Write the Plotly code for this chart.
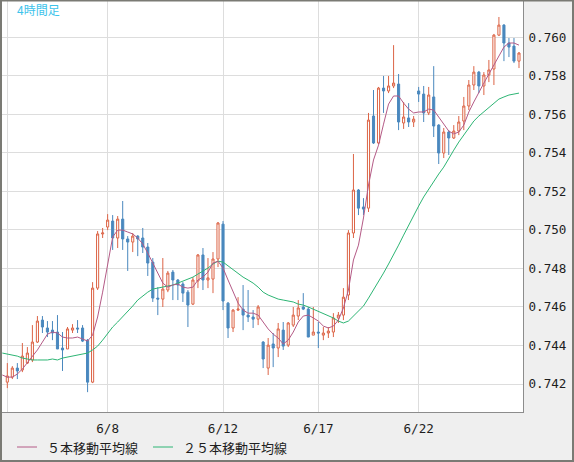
import plotly.graph_objects as go

# ---------------- data ----------------
bars = list(range(103))

opens = [0.74210, 0.74236, 0.74283, 0.74273, 0.74309, 0.74325, 0.74418, 0.74532, 0.74491, 0.74480,
         0.74470, 0.74387, 0.74382, 0.74480, 0.74491, 0.74491, 0.74428, 0.74210, 0.74698, 0.74979,
         0.75015, 0.75046, 0.74958, 0.75056, 0.74953, 0.74937, 0.74968, 0.74958, 0.74911, 0.74833,
         0.74646, 0.74641, 0.74688, 0.74781, 0.74740, 0.74719, 0.74677, 0.74615, 0.74735, 0.74870,
         0.74740, 0.74745, 0.74849, 0.75030, 0.74620, 0.74491, 0.74584, 0.74589, 0.74558, 0.74548,
         0.74537, 0.74418, 0.74283, 0.74408, 0.74387, 0.74480, 0.74402, 0.74506, 0.74553, 0.74600,
         0.74589, 0.74454, 0.74470, 0.74454, 0.74465, 0.74470, 0.74543, 0.74558, 0.74662, 0.74984,
         0.75207, 0.75119, 0.75113, 0.75591, 0.75451, 0.75736, 0.75721, 0.75747, 0.75757, 0.75555,
         0.75581, 0.75560, 0.75721, 0.75705, 0.75607, 0.75690, 0.75544, 0.75399, 0.75508, 0.75477,
         0.75513, 0.75565, 0.75643, 0.75752, 0.75819, 0.75747, 0.75804, 0.75835, 0.76011, 0.76063,
         0.75970, 0.75954, 0.75876]

highs = [0.74309, 0.74293, 0.74309, 0.74413, 0.74392, 0.74506, 0.74553, 0.74553, 0.74527, 0.74527,
         0.74558, 0.74470, 0.74496, 0.74511, 0.74532, 0.74506, 0.74434, 0.74729, 0.74994, 0.75010,
         0.75082, 0.75077, 0.75072, 0.75150, 0.74968, 0.74984, 0.74973, 0.75010, 0.74932, 0.74854,
         0.74703, 0.74854, 0.74787, 0.74792, 0.74745, 0.74729, 0.74688, 0.74755, 0.74875, 0.74906,
         0.74854, 0.74885, 0.75041, 0.75046, 0.74626, 0.74589, 0.74651, 0.74714, 0.74688, 0.74584,
         0.74610, 0.74423, 0.74439, 0.74465, 0.74517, 0.74522, 0.74522, 0.74600, 0.74636, 0.74672,
         0.74600, 0.74600, 0.74522, 0.74496, 0.74496, 0.74568, 0.74574, 0.74698, 0.74999, 0.75394,
         0.75212, 0.75165, 0.75607, 0.75726, 0.75742, 0.75799, 0.75799, 0.75959, 0.75809, 0.75664,
         0.75658, 0.75591, 0.75742, 0.75747, 0.75742, 0.75850, 0.75549, 0.75529, 0.75518, 0.75544,
         0.75591, 0.75690, 0.75778, 0.75850, 0.75825, 0.75819, 0.75882, 0.76017, 0.76105, 0.76068,
         0.75996, 0.75996, 0.75923]

lows = [0.74179, 0.74226, 0.74226, 0.74262, 0.74304, 0.74314, 0.74413, 0.74465, 0.74444, 0.74428,
        0.74382, 0.74268, 0.74382, 0.74465, 0.74465, 0.74418, 0.74158, 0.74205, 0.74688, 0.74958,
        0.74999, 0.74896, 0.74906, 0.74896, 0.74787, 0.74885, 0.74864, 0.74880, 0.74761, 0.74626,
        0.74558, 0.74600, 0.74677, 0.74636, 0.74636, 0.74626, 0.74496, 0.74610, 0.74698, 0.74688,
        0.74698, 0.74672, 0.74807, 0.74584, 0.74439, 0.74470, 0.74579, 0.74480, 0.74522, 0.74491,
        0.74506, 0.74283, 0.74247, 0.74288, 0.74340, 0.74377, 0.74392, 0.74496, 0.74532, 0.74584,
        0.74444, 0.74454, 0.74387, 0.74428, 0.74439, 0.74444, 0.74517, 0.74532, 0.74636, 0.74958,
        0.75077, 0.75077, 0.75093, 0.75446, 0.75446, 0.75607, 0.75710, 0.75736, 0.75518, 0.75524,
        0.75534, 0.75534, 0.75664, 0.75560, 0.75596, 0.75482, 0.75342, 0.75373, 0.75389, 0.75472,
        0.75492, 0.75518, 0.75622, 0.75726, 0.75710, 0.75700, 0.75767, 0.75752, 0.76006, 0.75876,
        0.75897, 0.75866, 0.75840]

closes = [0.74242, 0.74283, 0.74268, 0.74345, 0.74361, 0.74418, 0.74527, 0.74496, 0.74470, 0.74465,
          0.74382, 0.74377, 0.74486, 0.74491, 0.74486, 0.74423, 0.74210, 0.74698, 0.74979, 0.74984,
          0.75051, 0.74958, 0.75056, 0.74953, 0.74937, 0.74968, 0.74953, 0.74911, 0.74828, 0.74646,
          0.74641, 0.74693, 0.74776, 0.74740, 0.74714, 0.74672, 0.74610, 0.74740, 0.74870, 0.74740,
          0.74751, 0.74849, 0.75036, 0.74631, 0.74491, 0.74584, 0.74589, 0.74558, 0.74548, 0.74537,
          0.74600, 0.74330, 0.74402, 0.74387, 0.74486, 0.74397, 0.74517, 0.74558, 0.74595, 0.74589,
          0.74444, 0.74470, 0.74465, 0.74465, 0.74475, 0.74543, 0.74558, 0.74651, 0.74984, 0.75207,
          0.75113, 0.75108, 0.75570, 0.75451, 0.75736, 0.75721, 0.75747, 0.75762, 0.75560, 0.75586,
          0.75560, 0.75575, 0.75705, 0.75607, 0.75700, 0.75539, 0.75399, 0.75508, 0.75477, 0.75513,
          0.75560, 0.75643, 0.75752, 0.75819, 0.75747, 0.75804, 0.75830, 0.76011, 0.76063, 0.75970,
          0.75949, 0.75876, 0.75918]

# moving averages as drawn (first point is the bar just left of the visible window)
ma_bars = list(range(-1, 103))

ma5 = [0.74247,
       0.74236, 0.74236, 0.74252, 0.74278, 0.74309, 0.74340, 0.74377, 0.74418, 0.74459, 0.74470,
       0.74465, 0.74444, 0.74439, 0.74439, 0.74444, 0.74434, 0.74423, 0.74454, 0.74548, 0.74677,
       0.74813, 0.74963, 0.74999, 0.74999, 0.74989, 0.74979, 0.74958, 0.74927, 0.74880, 0.74828,
       0.74771, 0.74724, 0.74703, 0.74714, 0.74719, 0.74703, 0.74698, 0.74703, 0.74740, 0.74755,
       0.74781, 0.74828, 0.74838, 0.74802, 0.74740, 0.74677, 0.74620, 0.74584, 0.74568, 0.74568,
       0.74558, 0.74522, 0.74486, 0.74459, 0.74439, 0.74408, 0.74428, 0.74470, 0.74522, 0.74553,
       0.74558, 0.74543, 0.74527, 0.74501, 0.74491, 0.74501, 0.74532, 0.74595, 0.74688, 0.74844,
       0.74921, 0.75062, 0.75233, 0.75363, 0.75440, 0.75549, 0.75653, 0.75695, 0.75695, 0.75658,
       0.75627, 0.75607, 0.75612, 0.75612, 0.75627, 0.75622, 0.75586, 0.75544, 0.75513, 0.75498,
       0.75508, 0.75544, 0.75612, 0.75664, 0.75716, 0.75762, 0.75809, 0.75856, 0.75902, 0.75949,
       0.75970, 0.75970, 0.75959]

ma25 = [0.74361,
        0.74356, 0.74350, 0.74345, 0.74335, 0.74330, 0.74325, 0.74325, 0.74325, 0.74325, 0.74330,
        0.74325, 0.74335, 0.74340, 0.74345, 0.74350, 0.74356, 0.74361, 0.74377, 0.74397, 0.74428,
        0.74465, 0.74496, 0.74522, 0.74548, 0.74574, 0.74605, 0.74636, 0.74657, 0.74677, 0.74693,
        0.74698, 0.74703, 0.74709, 0.74714, 0.74724, 0.74735, 0.74745, 0.74755, 0.74771, 0.74787,
        0.74802, 0.74823, 0.74838, 0.74833, 0.74813, 0.74792, 0.74771, 0.74755, 0.74740, 0.74724,
        0.74703, 0.74677, 0.74662, 0.74651, 0.74641, 0.74636, 0.74631, 0.74626, 0.74615, 0.74610,
        0.74600, 0.74589, 0.74579, 0.74568, 0.74553, 0.74543, 0.74527, 0.74517, 0.74527, 0.74553,
        0.74579, 0.74605, 0.74646, 0.74688, 0.74729, 0.74776, 0.74823, 0.74870, 0.74921, 0.74973,
        0.75025, 0.75077, 0.75124, 0.75171, 0.75212, 0.75254, 0.75290, 0.75326, 0.75373, 0.75414,
        0.75456, 0.75492, 0.75529, 0.75565, 0.75591, 0.75612, 0.75632, 0.75658, 0.75679, 0.75690,
        0.75700, 0.75705, 0.75710]

x_tick_pos = [0, 20, 43, 62, 82]
x_tick_text = ["", "6/8", "6/12", "6/17", "6/22"]
y_tick_vals = [0.742, 0.744, 0.746, 0.748, 0.750, 0.752, 0.754, 0.756, 0.758, 0.760]
y_tick_text = ["0.742", "0.744", "0.746", "0.748", "0.750", "0.752", "0.754", "0.756", "0.758", "0.760"]

title_text = "4時間足"
legend_ma5 = "５本移動平均線"
legend_ma25 = "２５本移動平均線"

# ---------------- styling ----------------
UP = "#DC6446"
DOWN = "#4A88BE"
MA5_COLOR = "#B45A86"
MA25_COLOR = "#2DB574"
GRID = "#DDDDDD"
AXLINE = "#8C8C8C"
MONO = "DejaVu Sans Mono"
JP = "Noto Sans CJK JP"

W, H = 574, 462
ML, MR, MT, MB = 2, 51, 1, 50
PW, PH = W - ML - MR, H - MT - MB


def px_x(p):
    return (p - ML) / PW


def px_y(p):
    return (H - MB - p) / PH


fig = go.Figure()

fig.add_trace(go.Scatter(x=ma_bars, y=ma25, mode="lines", name=legend_ma25,
                         line=dict(color=MA25_COLOR, width=1), hoverinfo="skip"))

fig.add_trace(go.Candlestick(
    x=bars, open=opens, high=highs, low=lows, close=closes,
    increasing=dict(line=dict(color=UP, width=1), fillcolor="white"),
    decreasing=dict(line=dict(color=DOWN, width=1), fillcolor=DOWN),
    whiskerwidth=0, name="4H"))

fig.add_trace(go.Scatter(x=ma_bars, y=ma5, mode="lines", name=legend_ma5,
                         line=dict(color=MA5_COLOR, width=1), hoverinfo="skip"))

fig.update_layout(
    width=W, height=H,
    margin=dict(l=ML, r=MR, t=MT, b=MB, pad=0),
    paper_bgcolor="#EFEFEF", plot_bgcolor="white",
    showlegend=False,
    boxgap=0.4,
    font=dict(family=MONO, size=12.6, color="#1E1E1E"),
    xaxis=dict(range=[-1.06, 102.8], tickmode="array", tickvals=x_tick_pos, ticktext=x_tick_text,
               showgrid=True, gridcolor=GRID, gridwidth=1, zeroline=False,
               showline=True, linecolor=AXLINE, linewidth=1, ticks="",
               rangeslider=dict(visible=False), tickfont=dict(family=MONO, size=12.6),
               ticklabelstandoff=5),
    yaxis=dict(range=[0.74055, 0.76188], side="right", tickmode="array",
               tickvals=y_tick_vals, ticktext=y_tick_text,
               showgrid=True, gridcolor=GRID, gridwidth=1, zeroline=False,
               showline=True, linecolor=AXLINE, linewidth=1, ticks="",
               tickfont=dict(family=MONO, size=12.6), ticklabelstandoff=2),
)

# title label inside plot
fig.add_annotation(x=px_x(15), y=px_y(10), xref="paper", yref="paper", text=title_text,
                   showarrow=False, xanchor="left", yanchor="middle",
                   font=dict(family=JP, size=12, color="#3CC3EB"))

# manual legend
legend_y = px_y(447)
for (x0, x1, xt, col, txt) in [(17, 37, 45, MA5_COLOR, legend_ma5),
                               (153, 173, 181, MA25_COLOR, legend_ma25)]:
    fig.add_shape(type="line", xref="paper", yref="paper", x0=px_x(x0), x1=px_x(x1),
                  y0=legend_y, y1=legend_y, line=dict(color=col, width=1))
    fig.add_annotation(x=px_x(xt), y=legend_y, xref="paper", yref="paper", text=txt,
                       showarrow=False, xanchor="left", yanchor="middle",
                       font=dict(family=JP, size=13, color="#1E1E1E"))

# outer frame
fig.add_shape(type="rect", xref="paper", yref="paper",
              x0=px_x(1), x1=px_x(W - 1), y0=px_y(H - 1), y1=px_y(0.5),
              line=dict(color="#7A7A74", width=2), fillcolor="rgba(0,0,0,0)", layer="above")

fig.write_html("out.html")
